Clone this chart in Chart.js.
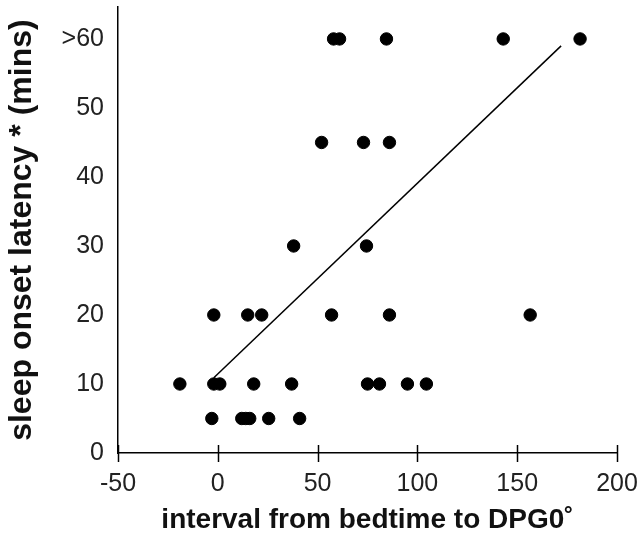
<!DOCTYPE html>
<html>
<head>
<meta charset="utf-8">
<script src="https://cdn.jsdelivr.net/npm/chart.js@4/dist/chart.umd.min.js"></script>
<style>
  html, body { margin: 0; padding: 0; background: #fff; }
  #wrap { width: 644px; height: 539px; }
</style>
</head>
<body>
<div id="wrap"><canvas id="c" width="644" height="539"></canvas></div>
<script>
// interval from bedtime to DPG0 (x) vs sleep onset latency (y)
const intervalX = [58, 61, 84.5, 143, 181.5,
                   52, 73, 86,
                   38, 74.5,
                   -2, 15, 22, 57, 86, 156.5,
                   -19, -2, 1, 18, 37, 75, 81, 95, 104.5,
                   -3, 12, 14, 16, 25.5, 41];
const latencyY = [60, 60, 60, 60, 60,
                  45, 45, 45,
                  30, 30,
                  20, 20, 20, 20, 20, 20,
                  10, 10, 10, 10, 10, 10, 10, 10, 10,
                  5, 5, 5, 5, 5, 5];
// regression line end points
const fitX = [-2, 172];
const fitY = [10.9, 59];
const xTicks = [-50, 0, 50, 100, 150, 200];
const yTicks = [0, 10, 20, 30, 40, 50, 60];

const FONT = 'Arial, "Liberation Sans", sans-serif';

// x ticks cross the axis line (above and below)
const crossTicks = {
  id: 'crossTicks',
  afterDraw(chart) {
    const sx = chart.scales.x, ctx = chart.ctx;
    const y0 = chart.chartArea.bottom;
    ctx.save();
    ctx.strokeStyle = '#000';
    ctx.lineWidth = 1.5;
    xTicks.forEach(v => {
      const px = Math.round(sx.getPixelForValue(v)) + 0.5;
      ctx.beginPath();
      ctx.moveTo(px, y0 - 8);
      ctx.lineTo(px, y0 + 9);
      ctx.stroke();
    });
    ctx.restore();
  }
};

new Chart(document.getElementById('c'), {
  type: 'scatter',
  data: {
    datasets: [
      {
        data: intervalX.map((x, i) => ({ x: x, y: latencyY[i] })),
        backgroundColor: '#000', borderColor: '#000',
        pointRadius: 6.2, pointHoverRadius: 6.2
      },
      {
        type: 'line',
        data: fitX.map((x, i) => ({ x: x, y: fitY[i] })),
        borderColor: '#000', borderWidth: 1.5, pointRadius: 0, fill: false
      }
    ]
  },
  options: {
    responsive: false, animation: false,
    layout: { padding: { top: 7, right: 27, left: 0, bottom: 0 } },
    plugins: { legend: { display: false }, tooltip: { enabled: false } },
    scales: {
      x: {
        type: 'linear', min: -50, max: 200,
        afterBuildTicks: s => { s.ticks = xTicks.map(v => ({ value: v })); },
        afterFit: s => { s.height = 86; s.paddingLeft = 0; s.paddingRight = 0; },
        grid: { display: true, drawOnChartArea: false, drawTicks: false },
        border: { display: true, color: '#000', width: 1.5 },
        ticks: { color: '#222', padding: 16, font: { family: FONT, size: 25 } },
        title: {
          display: true, text: 'interval from bedtime to DPG0˚', color: '#111',
          font: { family: FONT, size: 28, weight: 'bold' }, padding: { top: 0, bottom: 2 }
        }
      },
      y: {
        type: 'linear', min: 0, max: 64.6,
        afterBuildTicks: s => { s.ticks = yTicks.map(v => ({ value: v })); },
        afterFit: s => { s.width = 118; s.paddingTop = 0; s.paddingBottom = 0; },
        grid: { display: false, drawTicks: false },
        border: { display: true, color: '#000', width: 1.5 },
        ticks: {
          color: '#222', padding: 14, font: { family: FONT, size: 25 },
          callback: v => v === 60 ? '>60' : v
        },
        title: {
          display: true, text: 'sleep onset latency * (mins)', color: '#111',
          font: { family: FONT, size: 32, weight: 'bold' }, padding: { top: 3, bottom: 0 }
        }
      }
    }
  },
  plugins: [crossTicks]
});
</script>
</body>
</html>
